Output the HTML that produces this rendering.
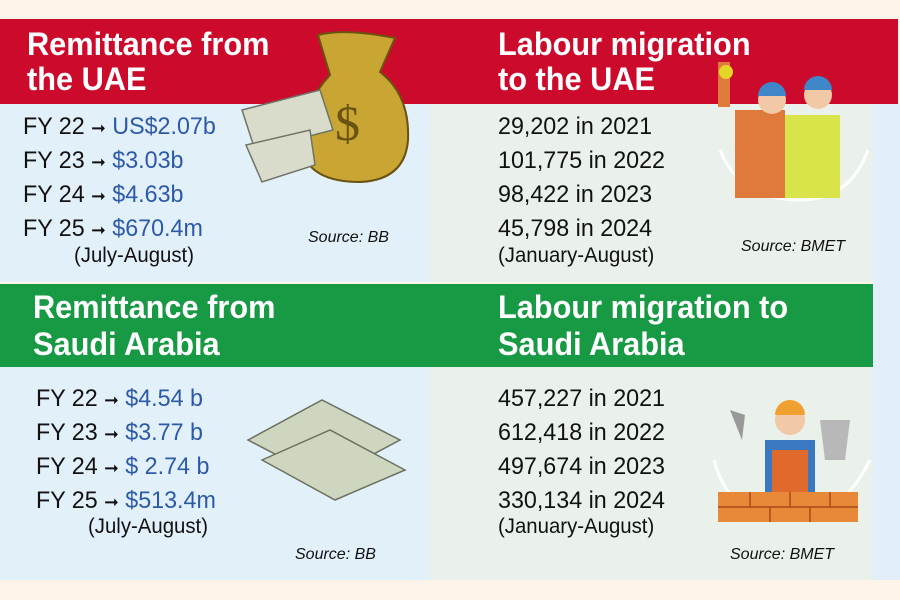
<!DOCTYPE html>
<html><head><meta charset="utf-8"><style>
*{margin:0;padding:0;box-sizing:border-box}
body{width:900px;height:600px;background:#fdf3e8;position:relative;overflow:hidden;font-family:"Liberation Sans",sans-serif}
.a{position:absolute}
.t{position:absolute;color:#fff;font-weight:bold;font-size:32px;white-space:nowrap;line-height:1;transform:scaleX(0.96);transform-origin:left}
.l{position:absolute;font-size:24px;color:#111;white-space:nowrap;line-height:1;transform:scaleX(0.97);transform-origin:left}
.b{color:#2d5aa5}
.s{position:absolute;font-size:16px;font-style:italic;color:#111;white-space:nowrap}
</style></head><body>
<div class="a" style="left:0;top:19px;width:898px;height:85px;background:#cc0a2c"></div>
<div class="a" style="left:0;top:104px;width:430px;height:178px;background:#e2f0fa"></div>
<div class="a" style="left:430px;top:104px;width:443px;height:178px;background:#e9f1ea"></div>
<div class="a" style="left:873px;top:104px;width:27px;height:476px;background:#e2eef9"></div>
<div class="a" style="left:0;top:284px;width:873px;height:83px;background:#189a45"></div>
<div class="a" style="left:0;top:367px;width:430px;height:213px;background:#e2f0fa"></div>
<div class="a" style="left:430px;top:367px;width:443px;height:213px;background:#e9f1ea"></div>

<div class="t" style="left:27px;top:28px">Remittance from</div>
<div class="t" style="left:27px;top:63px">the UAE</div>
<div class="t" style="left:498px;top:28px">Labour migration</div>
<div class="t" style="left:498px;top:63px">to the UAE</div>
<div class="t" style="left:33px;top:291px">Remittance from</div>
<div class="t" style="left:33px;top:328px">Saudi Arabia</div>
<div class="t" style="left:498px;top:291px">Labour migration to</div>
<div class="t" style="left:498px;top:328px">Saudi Arabia</div>

<div class="l" style="left:23px;top:115px">FY 22 <span style="font-size:18px">➞</span> <span class="b">US$2.07b</span></div>
<div class="l" style="left:23px;top:149px">FY 23 <span style="font-size:18px">➞</span> <span class="b">$3.03b</span></div>
<div class="l" style="left:23px;top:183px">FY 24 <span style="font-size:18px">➞</span> <span class="b">$4.63b</span></div>
<div class="l" style="left:23px;top:217px">FY 25 <span style="font-size:18px">➞</span> <span class="b">$670.4m</span></div>
<div class="l" style="left:74px;top:245px;font-size:21px">(July-August)</div>
<div class="s" style="left:308px;top:229px">Source: BB</div>

<div class="l" style="left:498px;top:115px">29,202 in 2021</div>
<div class="l" style="left:498px;top:149px">101,775 in 2022</div>
<div class="l" style="left:498px;top:183px">98,422 in 2023</div>
<div class="l" style="left:498px;top:217px">45,798 in 2024</div>
<div class="l" style="left:498px;top:245px;font-size:21px">(January-August)</div>
<div class="s" style="left:741px;top:238px">Source: BMET</div>

<div class="l" style="left:36px;top:387px">FY 22 <span style="font-size:18px">➞</span> <span class="b">$4.54 b</span></div>
<div class="l" style="left:36px;top:421px">FY 23 <span style="font-size:18px">➞</span> <span class="b">$3.77 b</span></div>
<div class="l" style="left:36px;top:455px">FY 24 <span style="font-size:18px">➞</span> <span class="b">$ 2.74 b</span></div>
<div class="l" style="left:36px;top:489px">FY 25 <span style="font-size:18px">➞</span> <span class="b">$513.4m</span></div>
<div class="l" style="left:88px;top:516px;font-size:21px">(July-August)</div>
<div class="s" style="left:295px;top:546px">Source: BB</div>

<div class="l" style="left:498px;top:387px">457,227 in 2021</div>
<div class="l" style="left:498px;top:421px">612,418 in 2022</div>
<div class="l" style="left:498px;top:455px">497,674 in 2023</div>
<div class="l" style="left:498px;top:489px">330,134 in 2024</div>
<div class="l" style="left:498px;top:516px;font-size:21px">(January-August)</div>
<div class="s" style="left:730px;top:546px">Source: BMET</div>

<svg class="a" style="left:0;top:0" width="900" height="600">
<path d="M318 35 Q345 28 395 38 L380 72 Q410 95 408 140 Q405 180 360 182 Q310 182 302 150 Q298 110 330 75 Z" fill="#c9a634" stroke="#6a5210" stroke-width="2"/>
<text x="335" y="140" font-family="Liberation Serif" font-size="50" fill="#6a5210">$</text>
<g fill="#d9dccb" stroke="#6f7466" stroke-width="1.5">
<path d="M242 110 L320 90 L333 130 L255 150 Z"/>
<path d="M246 145 L310 130 L315 165 L262 182 Z"/>
</g>
<path d="M720 150 Q740 200 800 200 Q850 200 868 150" fill="none" stroke="#fff" stroke-width="3"/>
<rect x="735" y="110" width="50" height="88" fill="#e07a3c"/>
<rect x="785" y="115" width="55" height="83" fill="#d8e44a"/>
<circle cx="772" cy="100" r="14" fill="#f1c9a6"/><path d="M758 96 A14 14 0 0 1 786 96 Z" fill="#3f87c8"/>
<circle cx="818" cy="95" r="14" fill="#f1c9a6"/><path d="M804 90 A14 14 0 0 1 832 90 Z" fill="#3f87c8"/>
<rect x="718" y="62" width="12" height="45" fill="#e07a3c"/><circle cx="726" cy="72" r="7" fill="#e6d629"/>
<g fill="#cfd6c0" stroke="#6b7160" stroke-width="1.5">
<path d="M248 440 L322 400 L400 440 L325 480 Z"/>
<path d="M262 460 L330 430 L405 470 L335 500 Z"/>
</g>
<path d="M714 460 Q730 520 790 520 Q840 520 870 460" fill="none" stroke="#fff" stroke-width="3"/>
<rect x="765" y="440" width="50" height="60" fill="#3b78c2"/>
<rect x="772" y="450" width="36" height="50" fill="#e06a2b"/>
<circle cx="790" cy="420" r="15" fill="#f1c9a6"/><path d="M775 415 A15 15 0 0 1 805 415 Z" fill="#f0a030"/>
<path d="M820 420 L850 420 L845 460 L825 460 Z" fill="#b8b8b8"/>
<path d="M730 410 L745 415 L742 440 Z" fill="#999"/>
<rect x="718" y="492" width="140" height="30" fill="#e8893a"/>
<g stroke="#a84a18" stroke-width="1.5"><line x1="718" y1="507" x2="858" y2="507"/><line x1="750" y1="492" x2="750" y2="507"/><line x1="790" y1="492" x2="790" y2="507"/><line x1="830" y1="492" x2="830" y2="507"/><line x1="770" y1="507" x2="770" y2="522"/><line x1="810" y1="507" x2="810" y2="522"/></g>
</svg>
</body></html>
